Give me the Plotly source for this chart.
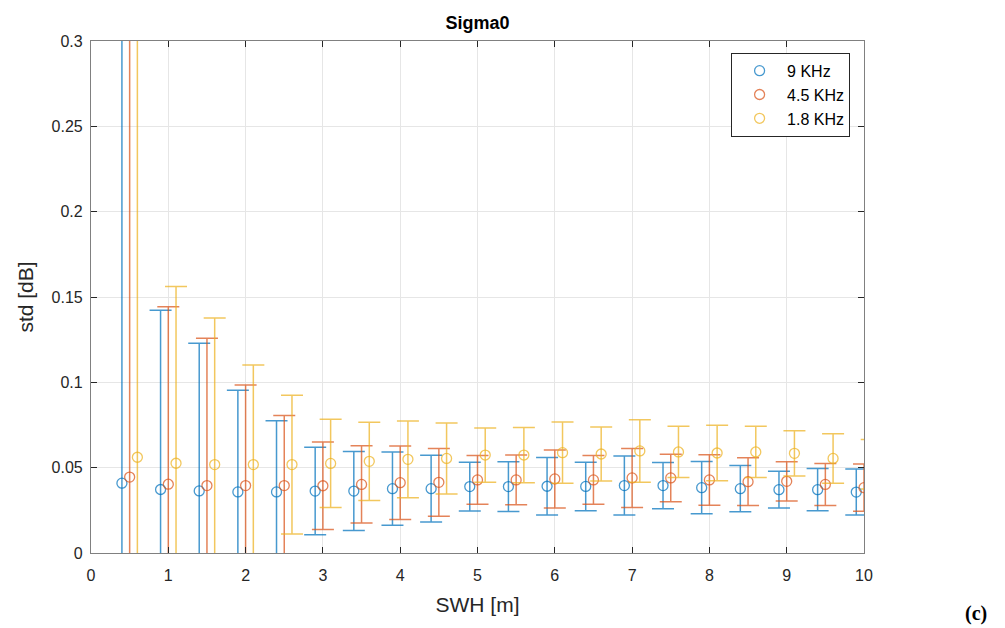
import plotly.graph_objects as go

# ---- data ----
x_9k = [0.4, 0.9, 1.4, 1.9, 2.4, 2.9, 3.4, 3.9, 4.4, 4.9, 5.4, 5.9, 6.4, 6.9, 7.4, 7.9, 8.4, 8.9, 9.4, 9.9]
y_9k = [0.0409, 0.0372, 0.0364, 0.0358, 0.0358, 0.0363, 0.0363, 0.0377, 0.0377, 0.0389,
        0.0389, 0.0391, 0.0390, 0.0395, 0.0395, 0.0383, 0.0377, 0.0371, 0.0371, 0.0357]
e_9k = [0.40, 0.105, 0.0865, 0.0595, 0.0417, 0.0256, 0.0231, 0.0215, 0.0196, 0.0143,
        0.0146, 0.0168, 0.0142, 0.0173, 0.0136, 0.0153, 0.0136, 0.0108, 0.0124, 0.0135]

x_4k5 = [0.5, 1.0, 1.5, 2.0, 2.5, 3.0, 3.5, 4.0, 4.5, 5.0, 5.5, 6.0, 6.5, 7.0, 7.5, 8.0, 8.5, 9.0, 9.5, 10.0]
y_4k5 = [0.0445, 0.0403, 0.0395, 0.0395, 0.0395, 0.0394, 0.0402, 0.0412, 0.0414, 0.0428,
         0.0428, 0.0434, 0.0428, 0.0440, 0.0440, 0.0428, 0.0418, 0.0420, 0.0402, 0.0383]
e_4k5 = [0.40, 0.104, 0.0864, 0.0589, 0.0411, 0.0257, 0.0226, 0.0215, 0.0199, 0.0143,
         0.0146, 0.0170, 0.0143, 0.0173, 0.0139, 0.0148, 0.0140, 0.0115, 0.0123, 0.0139]

x_1k8 = [0.6, 1.1, 1.6, 2.1, 2.6, 3.1, 3.6, 4.1, 4.6, 5.1, 5.6, 6.1, 6.6, 7.1, 7.6, 8.1, 8.6, 9.1, 9.6, 10.1]
y_1k8 = [0.0561, 0.0526, 0.0518, 0.0518, 0.0518, 0.0525, 0.0537, 0.0549, 0.0554, 0.0574,
         0.0574, 0.0588, 0.0580, 0.0598, 0.0592, 0.0586, 0.0592, 0.0584, 0.0554, 0.0520]
e_1k8 = [0.40, 0.1035, 0.0859, 0.0583, 0.0407, 0.0258, 0.0229, 0.0225, 0.0208, 0.0159,
         0.0162, 0.0180, 0.0158, 0.0183, 0.0150, 0.0162, 0.0150, 0.0133, 0.0145, 0.0145]

series = [
    ("9 KHz", x_9k, y_9k, e_9k, (0, 114, 189)),
    ("4.5 KHz", x_4k5, y_4k5, e_4k5, (217, 83, 25)),
    ("1.8 KHz", x_1k8, y_1k8, e_1k8, (237, 177, 32)),
]

x_ticks = list(range(0, 11))
y_ticks = [0, 0.05, 0.1, 0.15, 0.2, 0.25, 0.3]
y_tick_labels = ["0", "0.05", "0.1", "0.15", "0.2", "0.25", "0.3"]

FONT = "Liberation Sans, Arial, sans-serif"
AX = "#808080"
TXT = "#262626"

# plot area in figure pixels (page offset of ~7px already accounted for)
L, T, PW, PH = 83, 33, 773, 512

fig = go.Figure()
for name, xs, ys, es, (r, g, b) in series:
    col = f"rgba({r},{g},{b},0.72)"
    fig.add_trace(go.Scatter(
        x=xs, y=ys, name=name, mode="markers",
        marker=dict(symbol="circle-open", size=10, color=col,
                    line=dict(width=1.3, color=col)),
        error_y=dict(type="data", array=es, visible=True, color=col,
                     thickness=1.5, width=11),
    ))

axis_common = dict(
    showline=True, linecolor=AX, linewidth=1.2, mirror="ticks",
    ticks="inside", ticklen=6, tickcolor=TXT, tickwidth=1,
    showgrid=True, gridcolor="#e6e6e6", gridwidth=1, zeroline=False,
    tickfont=dict(family=FONT, size=16, color=TXT),
)

fig.update_layout(
    width=1005, height=628,
    paper_bgcolor="white", plot_bgcolor="white",
    margin=dict(l=L, r=1005 - L - PW, t=T, b=628 - T - PH, autoexpand=False),
    title=dict(text="<b>Sigma0</b>", x=(L + PW / 2) / 1005, xanchor="center",
               y=1 - 15 / 628, yanchor="middle",
               font=dict(family=FONT, size=18, color="#000000")),
    xaxis=dict(range=[0, 10], tickvals=x_ticks, ticklabelstandoff=8,
               title=dict(text="SWH [m]", standoff=14,
                          font=dict(family=FONT, size=21, color=TXT)), **axis_common),
    yaxis=dict(range=[0, 0.3], tickvals=y_ticks, ticktext=y_tick_labels,
               ticklabelstandoff=4,
               title=dict(text="std [dB]", standoff=12,
                          font=dict(family=FONT, size=21, color=TXT)), **axis_common),
    legend=dict(x=0.982, y=0.977, xanchor="right", yanchor="top",
                bgcolor="white", bordercolor=TXT, borderwidth=1,
                font=dict(family=FONT, size=16, color="#000000"),
                itemwidth=45, tracegroupgap=2),
    showlegend=True,
    annotations=[dict(text="<b>(c)</b>", xref="paper", yref="paper",
                      x=(968 - L) / PW, y=-(605 - T - PH) / PH,
                      xanchor="center", yanchor="middle", showarrow=False,
                      font=dict(family="Liberation Serif, serif", size=20, color="#000000"))],
)

fig.write_html("out.html")
